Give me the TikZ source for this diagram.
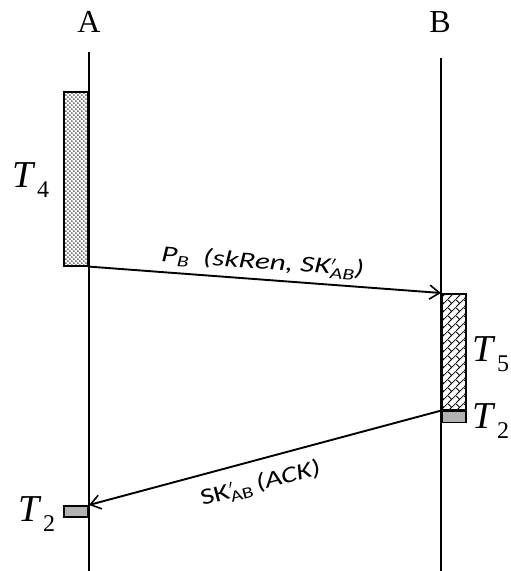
\documentclass[tikz,border=0pt]{standalone}
\usepackage{fontspec}
\setmainfont{Liberation Serif}
\newfontfamily\carl{Carlito}
\usetikzlibrary{arrows.meta,patterns}
\pgfdeclarepatternformonly{diagbricks}{\pgfpointorigin}{\pgfpoint{8pt}{8pt}}{\pgfpoint{8pt}{8pt}}{%
  \pgfsetlinewidth{0.9pt}%
  \pgfpathmoveto{\pgfpoint{-0.5pt}{-0.5pt}}\pgfpathlineto{\pgfpoint{8.5pt}{8.5pt}}%
  \pgfpathmoveto{\pgfpoint{4pt}{4pt}}\pgfpathlineto{\pgfpoint{0pt}{8pt}}%
  \pgfusepath{stroke}}
\pgfdeclarepatternformonly{bigdots}{\pgfpointorigin}{\pgfpoint{4.4pt}{4.4pt}}{\pgfpoint{4.4pt}{4.4pt}}{%
  \pgfpathcircle{\pgfpoint{1.1pt}{1.1pt}}{0.85pt}%
  \pgfpathcircle{\pgfpoint{3.3pt}{3.3pt}}{0.85pt}%
  \pgfusepath{fill}}
\newcommand{\subx}[1]{\raisebox{-0.28em}{\fontsize{24}{26}\selectfont #1}}
\newcommand{\tlabel}[1]{\textit{T}\kern1pt\subx{#1}}
\newcommand{\primeab}[1]{\rlap{\kern0.5pt\raisebox{8.5pt}{\fontsize{13}{14}\selectfont$\prime$}}\raisebox{-0.4ex}{\fontsize{16}{17}\selectfont #1}}
\begin{document}
\begin{tikzpicture}[x=1pt,y=-1pt,
  life/.style={line width=2pt},
  msg/.style={line width=1.9pt,-{Straight Barb[length=10pt,width=14pt,line width=1.6pt]}},
  boxbase/.style={draw,line width=1.6pt,inner sep=0pt,minimum width=24pt},
  dotbox/.style={boxbase,pattern=bigdots},
  brickbox/.style={boxbase,pattern=diagbricks},
  graybox/.style={boxbase,fill=gray!60,minimum height=11pt},
  head/.style={font=\fontsize{32}{34}\selectfont},
  tlab/.style={font=\fontsize{38}{40}\selectfont},
  mlab/.style={font=\carl\itshape\fontsize{23}{25}\selectfont}]
\useasboundingbox (0,0) rectangle (511,571);
\node[head] (A) at (89,22) {A};
\node[head] (B) at (440,22) {B};
\coordinate (Atop) at (89,52);
\coordinate (Abot) at (89,571);
\coordinate (Btop) at (441,58);
\coordinate (Bbot) at (441,571);
\draw[life] (Atop) -- (Abot);
\draw[life] (Btop) -- (Bbot);
\node[dotbox,minimum height=174pt,anchor=north east] (t4) at (89,91) {};
\node[brickbox,minimum height=116pt,anchor=north west] (t5) at (441,293) {};
\node[graybox,anchor=north west] (t2b) at (t5.south west) {};
\node[graybox,anchor=north east] (t2a) at (89,505) {};
\node[tlab] (l4) at (31,180) {\tlabel{4}};
\node[tlab] (l5) at (491,354) {\tlabel{5}};
\node[tlab] (l2b) at (491,421) {\tlabel{2}};
\node[tlab] (l2a) at (37,514) {\tlabel{2}};
\draw[msg] (t4.south east) -- node[pos=0.49,sloped,above=2pt,mlab] {\scalebox{1.35}[1]{P\raisebox{-0.35ex}{\fontsize{16}{17}\selectfont B}\ \ (skRen, SK\primeab{AB})}} (t5.north west);
\draw[msg] (t2b.north west) -- node[pos=0.53,sloped,below=9pt,font=\carl\fontsize{23}{25}\selectfont] {\scalebox{1.3}[1]{SK\primeab{AB}\,\textit{(ACK)}}} (t2a.north east);
\end{tikzpicture}
\end{document}
